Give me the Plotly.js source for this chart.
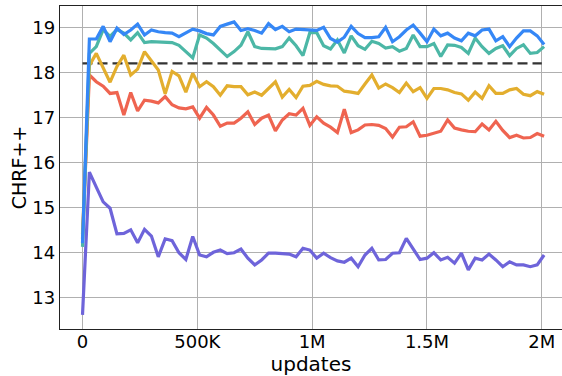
<!DOCTYPE html>
<html>
<head>
<meta charset="utf-8">
<script src="https://cdn.plot.ly/plotly-3.0.1.min.js"></script>
<style>html,body{margin:0;padding:0;background:#fff}#chart{width:562px;height:376px}</style>
</head>
<body>
<div id="chart"></div>
<script>
// x positions: checkpoints every 30K updates
const STEP = 30000;
const NPTS = 68;
const updates = Array.from({length: NPTS}, (_, i) => i * STEP);

const blueSeries = [14.2,18.74,18.74,19.02,18.68,18.98,18.84,18.94,19.07,18.83,18.94,18.90,18.88,18.87,18.79,18.87,18.96,18.92,18.86,18.83,19.02,19.07,19.12,18.93,18.97,18.93,18.87,19.08,18.95,19.02,18.9,18.96,18.95,18.93,18.93,19.0,18.75,18.67,18.78,19.02,18.86,18.77,18.77,18.79,19.0,18.68,18.79,18.94,19.05,18.87,18.68,18.96,18.81,18.87,18.76,18.70,18.87,18.81,18.94,18.96,18.70,18.79,18.57,18.76,18.92,18.92,18.81,18.62];
const tealSeries = [14.12,18.42,18.57,18.95,18.8,18.95,18.87,18.72,18.88,18.66,18.68,18.67,18.67,18.66,18.6,18.46,18.32,18.83,18.76,18.64,18.50,18.35,18.46,18.6,18.9,18.57,18.53,18.53,18.52,18.57,18.76,18.59,18.37,18.88,18.88,18.59,18.52,18.72,18.43,18.81,18.59,18.51,18.69,18.64,18.54,18.57,18.47,18.53,18.83,18.57,18.57,18.64,18.35,18.61,18.6,18.55,18.42,18.76,18.57,18.42,18.53,18.59,18.37,18.53,18.61,18.42,18.44,18.57];
const yellowSeries = [14.4,18.15,18.42,18.1,17.78,18.13,18.38,17.94,18.07,18.46,18.24,18.05,17.52,18.02,17.92,17.56,17.98,17.68,17.79,17.68,17.49,17.7,17.68,17.68,17.50,17.56,17.49,17.64,17.79,17.45,17.62,17.44,17.69,17.71,17.8,17.73,17.70,17.69,17.58,17.56,17.53,17.74,17.94,17.65,17.74,17.66,17.55,17.76,17.57,17.66,17.42,17.64,17.64,17.61,17.55,17.52,17.38,17.56,17.42,17.70,17.53,17.53,17.61,17.64,17.51,17.48,17.57,17.51];
const redSeries = [14.3,17.94,17.79,17.69,17.53,17.55,17.05,17.55,17.14,17.38,17.36,17.32,17.46,17.28,17.21,17.19,17.23,16.98,17.22,17.05,16.80,16.87,16.87,16.98,17.12,16.84,16.98,17.05,16.70,16.94,17.08,17.05,17.20,16.82,17.01,16.87,16.78,16.66,17.18,16.66,16.72,16.83,16.84,16.82,16.75,16.56,16.78,16.79,16.90,16.58,16.60,16.65,16.69,16.94,16.76,16.72,16.69,16.68,16.85,16.72,16.91,16.71,16.55,16.60,16.54,16.55,16.64,16.58];
const purpleSeries = [12.61,15.78,15.45,15.12,14.98,14.41,14.42,14.5,14.21,14.51,14.36,13.9,14.3,14.26,13.99,13.84,14.35,13.94,13.9,14.0,14.05,13.97,13.99,14.07,13.87,13.72,13.83,13.98,13.98,13.97,13.96,13.9,14.09,14.05,13.87,13.98,13.88,13.81,13.78,13.87,13.68,13.94,14.09,13.83,13.84,13.98,13.99,14.31,14.09,13.84,13.87,13.99,13.83,13.89,13.76,13.98,13.61,13.87,13.83,13.96,13.83,13.68,13.79,13.72,13.72,13.68,13.72,13.94];

const baselineX = [0, 2000000];
const baselineY = [18.2, 18.2];

const xTickVals = [0, 500000, 1000000, 1500000, 2000000];
const xTickText = ['0', '500K', '1M', '1.5M', '2M'];
const yTickVals = [13, 14, 15, 16, 17, 18, 19];
const yTickText = ['13', '14', '15', '16', '17', '18', '19'];

const colors = {
  purple: '#6e64da',
  red: '#ef6450',
  yellow: '#e3ae2e',
  teal: '#4cb7a6',
  blue: '#3587f6',
  base: '#333333'
};

function line(y, color) {
  return {x: updates, y: y, type: 'scatter', mode: 'lines',
    line: {color: color, width: 3.2}, hoverinfo: 'skip', showlegend: false};
}

const traces = [
  {x: baselineX, y: baselineY, type: 'scatter', mode: 'lines',
   line: {color: colors.base, width: 2.2, dash: '10px,5px'}, showlegend: false},
  line(purpleSeries, colors.purple),
  line(redSeries, colors.red),
  line(yellowSeries, colors.yellow),
  line(tealSeries, colors.teal),
  line(blueSeries, colors.blue)
];

const layout = {
  width: 562, height: 376,
  margin: {l: 60, r: 0, t: 6, b: 47},
  paper_bgcolor: '#ffffff', plot_bgcolor: '#ffffff',
  font: {family: 'DejaVu Sans, sans-serif', size: 18, color: '#000'},
  showlegend: false,
  xaxis: {
    range: [-98000, 2088000],
    tickvals: xTickVals, ticktext: xTickText,
    showgrid: true, gridcolor: '#b0b0b0', gridwidth: 1,
    zeroline: false,
    showline: true, linecolor: '#222', linewidth: 1.2, mirror: true,
    ticks: '', tickfont: {size: 18},
    ticklabelstandoff: -4,
    title: {text: 'updates', font: {size: 20}, standoff: 10},
    automargin: false
  },
  yaxis: {
    range: [12.296, 19.473],
    tickvals: yTickVals, ticktext: yTickText,
    showgrid: true, gridcolor: '#b0b0b0', gridwidth: 1,
    zeroline: false,
    showline: true, linecolor: '#222', linewidth: 1.2, mirror: false,
    ticks: '', tickfont: {size: 18},
    title: {text: 'CHRF++', font: {size: 19}, standoff: 0},
    automargin: false
  }
};

Plotly.newPlot('chart', traces, layout, {staticPlot: true, displayModeBar: false});
</script>
</body>
</html>
